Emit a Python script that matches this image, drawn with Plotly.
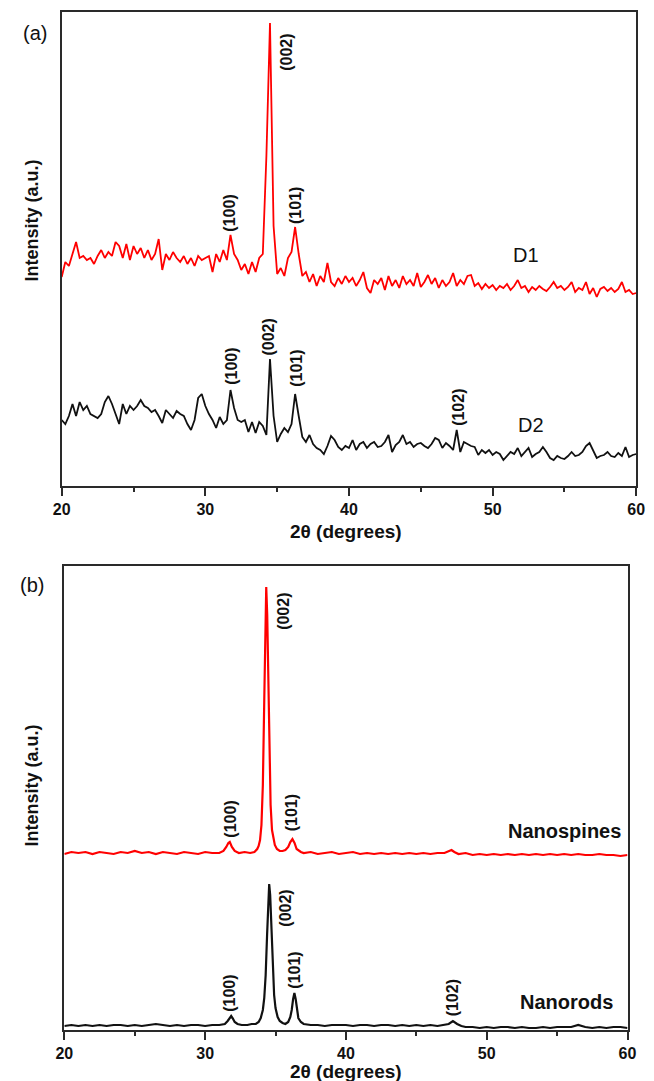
import plotly.graph_objects as go

# The page body adds an 8 px margin; size the figure so it fills the 654x1081 window exactly.
OFF = 8
W, H = 654 - OFF, 1081 - OFF

# ---------------- Panel (a) data: 2-theta grid every 0.25 deg from 20 to 60 ----------------
theta_a = [20 + 0.25 * i for i in range(161)]

d1 = [
    209, 224, 220, 232,  # 20
    244, 228, 230, 226,  # 21
    228, 222, 230, 236,  # 22
    228, 234, 230, 244,  # 23
    240, 228, 242, 226,  # 24
    240, 232, 238, 228,  # 25
    236, 226, 232, 247,  # 26
    216, 232, 226, 234,  # 27
    228, 224, 230, 222,  # 28
    228, 220, 230, 226,  # 29
    228, 230, 214, 232,  # 30
    224, 236, 226, 251,  # 31
    232, 226, 216, 222,  # 32
    212, 224, 214, 228,  # 33
    232, 330, 463, 260,  # 34
    212, 218, 210, 228,  # 35
    234, 259, 232, 210,  # 36
    214, 204, 212, 200,  # 37
    210, 204, 223, 204,  # 38
    200, 208, 202, 210,  # 39
    204, 208, 200, 206,  # 40
    214, 198, 193, 206,  # 41
    202, 208, 196, 210,  # 42
    200, 206, 198, 210,  # 43
    202, 206, 200, 213,  # 44
    199, 204, 211, 202,  # 45
    208, 198, 206, 200,  # 46
    204, 213, 200, 206,  # 47
    202, 210, 211, 200,  # 48
    203, 197, 202, 198,  # 49
    201, 196, 200, 198,  # 50
    202, 196, 200, 206,  # 51
    198, 200, 194, 199,  # 52
    196, 200, 197, 195,  # 53
    199, 204, 198, 200,  # 54
    196, 199, 204, 194,  # 55
    198, 196, 204, 192,  # 56
    198, 189, 197, 199,  # 57
    195, 198, 194, 197,  # 58
    204, 194, 196, 192,  # 59
    193,                 # 60
]

d2 = [
    66, 62, 70, 82,    # 20
    70, 84, 76, 80,    # 21
    72, 70, 68, 72,    # 22
    84, 90, 82, 72,    # 23
    62, 82, 72, 80,    # 24
    76, 80, 86, 80,    # 25
    78, 74, 76, 70,    # 26
    63, 76, 72, 68,    # 27
    75, 72, 70, 62,    # 28
    56, 66, 88, 92,    # 29
    80, 72, 66, 58,    # 30
    69, 62, 66, 96,    # 31
    78, 66, 64, 66,    # 32
    54, 64, 53, 64,    # 33
    60, 51, 127, 70,   # 34
    44, 52, 58, 54,    # 35
    62, 92, 70, 49,    # 36
    44, 51, 42, 38,    # 37
    36, 32, 40, 50,    # 38
    46, 39, 36, 40,    # 39
    38, 46, 36, 42,    # 40
    44, 38, 42, 44,    # 41
    39, 40, 44, 51,    # 42
    34, 41, 44, 51,    # 43
    42, 44, 39, 42,    # 44
    43, 40, 38, 42,    # 45
    48, 46, 38, 43,    # 46
    40, 36, 56, 34,    # 47
    44, 42, 40, 39,    # 48
    31, 36, 33, 36,    # 49
    31, 34, 32, 26,    # 50
    30, 34, 32, 38,    # 51
    30, 34, 38, 29,    # 52
    32, 34, 39, 34,    # 53
    28, 26, 30, 28,    # 54
    27, 30, 34, 30,    # 55
    31, 34, 40, 43,    # 56
    36, 28, 30, 31,    # 57
    34, 30, 29, 33,    # 58
    30, 39, 29, 31,    # 59
    32,                # 60
]

# ---------------- Panel (b) data ----------------
spines_x = [20.0, 20.5, 21.0, 21.5, 22.0, 22.5, 23.0, 23.5, 24.0, 24.5,
            25.0, 25.5, 26.0, 26.5, 27.0, 27.5, 28.0, 28.5, 29.0, 29.5,
            30.0, 30.5, 31.0, 31.3, 31.5, 31.65, 31.75, 31.9, 32.1, 32.4,
            32.8, 33.2, 33.5, 33.7, 33.8, 33.9, 34.0, 34.1, 34.2, 34.27,
            34.34, 34.41, 34.48, 34.56, 34.65, 34.75, 34.85, 34.95, 35.1, 35.3,
            35.5, 35.7, 35.9, 36.05, 36.2, 36.35, 36.5, 36.8, 37.0, 37.5,
            38.0, 38.5, 39.0, 39.5, 40.0, 40.5, 41.0, 41.5, 42.0, 42.5,
            43.0, 43.5, 44.0, 44.5, 45.0, 45.5, 46.0, 46.5, 47.0, 47.3,
            47.5, 47.7, 48.0, 48.5, 49.0, 49.5, 50.0, 50.5, 51.0, 51.5,
            52.0, 52.5, 53.0, 53.5, 54.0, 54.5, 55.0, 55.5, 56.0, 56.5,
            57.0, 57.5, 58.0, 58.5, 59.0, 59.5, 60.0]
spines_y = [176, 178, 177, 178, 176, 178, 177, 176, 178, 177,
            179, 177, 178, 176, 178, 177, 176, 178, 177, 176,
            178, 177, 177, 179, 183, 187, 188, 183, 179, 177,
            178, 177, 178, 181, 184, 190, 205, 245, 330, 410,
            443, 415, 350, 270, 225, 200, 190, 185, 181, 179,
            179, 180, 183, 188, 191, 187, 181, 178, 177, 178,
            176, 177, 178, 176, 177, 178, 176, 177, 176, 177,
            176, 177, 176, 177, 176, 177, 176, 177, 177, 179,
            180, 178, 176, 177, 175, 176, 175, 176, 175, 176,
            175, 176, 175, 176, 175, 176, 175, 176, 175, 176,
            175, 175, 176, 175, 175, 174, 175]

rods_x = [20.0, 20.5, 21.0, 21.5, 22.0, 22.5, 23.0, 23.5, 24.0, 24.5,
          25.0, 25.5, 26.0, 26.5, 27.0, 27.5, 28.0, 28.5, 29.0, 29.5,
          30.0, 30.5, 31.0, 31.4, 31.6, 31.75, 31.85, 31.95, 32.1, 32.3,
          32.6, 33.0, 33.3, 33.6, 33.8, 33.95, 34.1, 34.2, 34.3, 34.4,
          34.5, 34.55, 34.62, 34.7, 34.8, 34.9, 35.0, 35.15, 35.3, 35.5,
          35.7, 35.9, 36.05, 36.15, 36.25, 36.34, 36.43, 36.52, 36.62, 36.8,
          37.0, 37.5, 38.0, 38.5, 39.0, 39.5, 40.0, 40.5, 41.0, 41.5,
          42.0, 42.5, 43.0, 43.5, 44.0, 44.5, 45.0, 45.5, 46.0, 46.5,
          47.0, 47.3, 47.6, 47.9, 48.2, 48.5, 49.0, 49.5, 50.0, 50.5,
          51.0, 51.5, 52.0, 52.5, 53.0, 53.5, 54.0, 54.5, 55.0, 55.5,
          56.0, 56.5, 57.0, 57.5, 58.0, 58.5, 59.0, 59.5, 60.0]
rods_y = [4, 5, 4, 5, 4, 5, 4, 5, 5, 4,
          5, 4, 5, 6, 5, 4, 5, 4, 5, 5,
          4, 5, 5, 6, 9, 12, 14, 12, 8, 6,
          5, 5, 6, 6, 8, 12, 20, 32, 55, 95,
          135, 146, 135, 100, 60, 35, 22, 13, 9, 7,
          6, 8, 13, 20, 31, 37, 31, 20, 12, 8,
          6, 5, 5, 4, 5, 5, 5, 4, 5, 5,
          4, 5, 5, 4, 5, 4, 5, 4, 5, 4,
          5, 6, 9, 6, 4, 3, 3, 2, 3, 2,
          3, 3, 2, 3, 2, 2, 3, 2, 3, 3,
          3, 5, 3, 2, 3, 2, 3, 3, 2]

# peak labels: (text, 2theta, intensity)
labels_a_red = [("(100)", 31.69, 273), ("(002)", 35.67, 434), ("(101)", 36.31, 281)]
labels_a_black = [("(100)", 31.84, 120), ("(002)", 34.40, 149), ("(101)", 36.37, 118), ("(102)", 47.65, 79)]
labels_b_red = [("(100)", 31.74, 211), ("(002)", 35.52, 419), ("(101)", 36.12, 217)]
labels_b_black = [("(100)", 31.68, 37), ("(002)", 35.65, 122), ("(101)", 36.29, 60), ("(102)", 47.56, 32)]

FONT = "Liberation Sans, Arial, sans-serif"
RED = "#ff0000"
BLACK = "#111111"
AX = "#2a2a2a"
TXT = "#111111"

fig = go.Figure()
fig.add_trace(go.Scatter(x=theta_a, y=d1, mode="lines", line=dict(color=RED, width=1.8),
                         xaxis="x", yaxis="y", showlegend=False))
fig.add_trace(go.Scatter(x=theta_a, y=d2, mode="lines", line=dict(color=BLACK, width=1.8),
                         xaxis="x", yaxis="y", showlegend=False))
fig.add_trace(go.Scatter(x=spines_x, y=spines_y, mode="lines", line=dict(color=RED, width=2.2),
                         xaxis="x2", yaxis="y2", showlegend=False))
fig.add_trace(go.Scatter(x=rods_x, y=rods_y, mode="lines", line=dict(color=BLACK, width=2.2),
                         xaxis="x2", yaxis="y2", showlegend=False))


def px(xp):
    return (xp - OFF) / W


def py(yp):
    return 1 - (yp - OFF) / H


def xax(domain, anchor):
    return dict(domain=domain, anchor=anchor, range=[20, 60], dtick=10, tick0=20,
                showline=True, linecolor=AX, linewidth=1.8, mirror=True,
                ticks="outside", ticklen=8, tickwidth=1.5, tickcolor=AX,
                minor=dict(dtick=5, tick0=20, ticks="outside", ticklen=4, tickwidth=1.5, tickcolor=AX),
                showgrid=False, zeroline=False,
                tickfont=dict(family=FONT, size=16, color=TXT, weight="bold"))


def yax(domain, anchor, rng):
    return dict(domain=domain, anchor=anchor, range=rng, showline=True, linecolor=AX,
                linewidth=1.8, mirror=True, ticks="", showticklabels=False,
                showgrid=False, zeroline=False)


ann = []
for (t, x, y) in labels_a_red + labels_a_black:
    ann.append(dict(text="<b>%s</b>" % t, x=x, y=y, xref="x", yref="y", textangle=-90,
                    xanchor="center", yanchor="middle",
                    showarrow=False, font=dict(family=FONT, size=16, color=TXT)))
for (t, x, y) in labels_b_red + labels_b_black:
    ann.append(dict(text="<b>%s</b>" % t, x=x, y=y, xref="x2", yref="y2", textangle=-90,
                    xanchor="center", yanchor="middle",
                    showarrow=False, font=dict(family=FONT, size=16, color=TXT)))


def note(text, x, y, xref, yref, size, **kw):
    d = dict(text=text, x=x, y=y, xref=xref, yref=yref, showarrow=False,
             xanchor="center", yanchor="middle", font=dict(family=FONT, size=size, color=TXT))
    d.update(kw)
    return d


ann += [
    note("D1", 52.33, 231, "x", "y", 20),
    note("D2", 52.69, 60.5, "x", "y", 20),
    note("<b>Nanospines</b>", 59.71, 199, "x2", "y2", 20, xanchor="right"),
    note("<b>Nanorods</b>", 59.09, 28, "x2", "y2", 20, xanchor="right"),
    note("(a)", px(26.7), py(33), "paper", "paper", 20),
    note("(b)", px(23.3), py(585), "paper", "paper", 20),
    note("<b>Intensity (a.u.)</b>", px(23), py(221), "paper", "paper", 18, textangle=-90),
    note("<b>Intensity (a.u.)</b>", px(23), py(786), "paper", "paper", 18, textangle=-90),
    note("<b>2θ (degrees)</b>", px(346), py(531), "paper", "paper", 19),
    note("<b>2θ (degrees)</b>", px(346), py(1071), "paper", "paper", 19),
]

fig.update_layout(
    width=W, height=H,
    margin=dict(l=0, r=0, t=0, b=0),
    paper_bgcolor="white", plot_bgcolor="white",
    xaxis=xax([px(54), px(645)], "y"),
    yaxis=yax([py(486), py(12)], "x", [0, 474]),
    xaxis2=xax([px(56.7), px(636)], "y2"),
    yaxis2=yax([py(1030), py(566)], "x2", [0, 464]),
    annotations=ann,
    showlegend=False,
)

fig.write_html("out.html")
